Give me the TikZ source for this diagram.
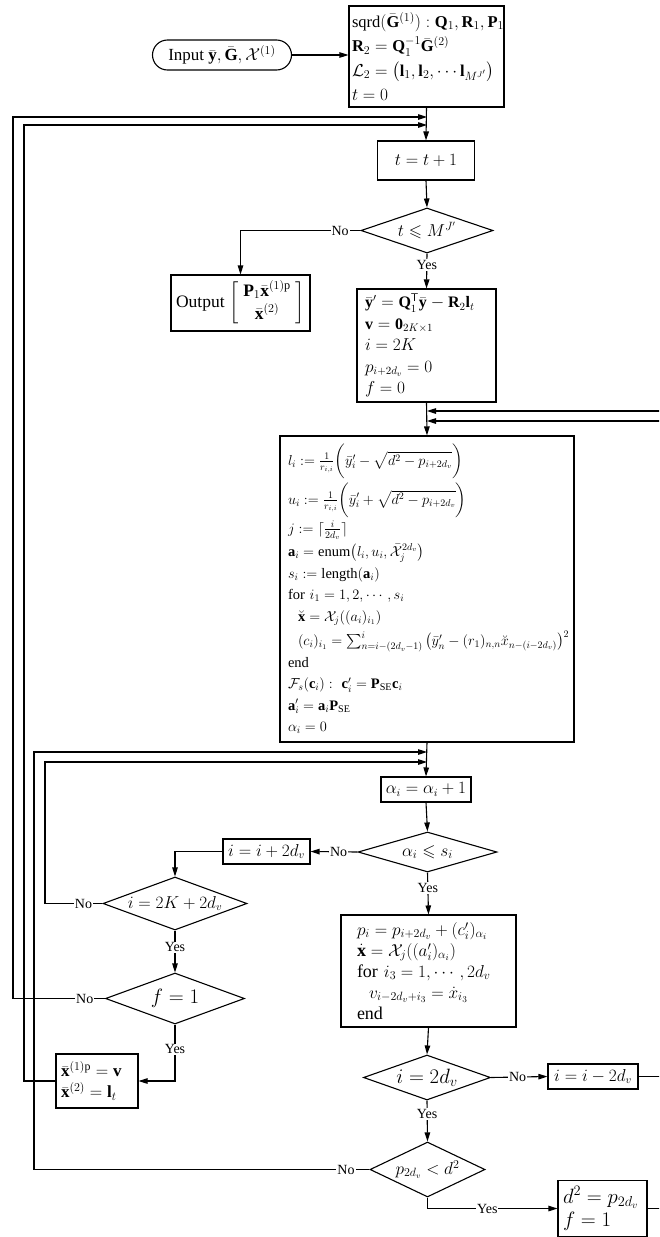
\documentclass[tikz,border=0pt]{standalone}
\usepackage{amsmath,amssymb}
\usepackage{fontspec}
\setmainfont{Liberation Serif}
\usetikzlibrary{shapes.geometric,arrows.meta}
\begin{document}
\begin{tikzpicture}[x=1pt,y=-1pt,
  every node/.style={font=\fontsize{16}{20}\selectfont},
  line width=1.1pt,
  arr/.style={-{Triangle[length=9pt,width=5.5pt]}},
  box/.style={draw,rectangle,inner sep=0pt,line width=1.1pt},
  dia/.style={draw,diamond,inner sep=0pt,line width=1.1pt},
  lbl/.style={fill=white,inner sep=1pt,font=\fontsize{14}{16}\selectfont},
]
\useasboundingbox (0,0) rectangle (659,1237);
\clip (0,0) rectangle (659,1237);

% ---------- nodes ----------
\node[draw,rectangle,rounded corners=15pt,minimum width=139pt,minimum height=30pt,inner sep=0pt,font=\fontsize{17}{20}\selectfont] (input) at (222,55)
  {Input $\bar{\mathbf{y}},\bar{\mathbf{G}},\mathcal{X}^{(1)}$};

\node[box,minimum width=155pt,minimum height=101pt,text width=149pt,inner xsep=3pt,align=left,font=\fontsize{16.5}{24.5}\selectfont] (init) at (426.5,56.5)
  {\mbox{$\text{sqrd}(\bar{\mathbf{G}}^{(1)}):\mathbf{Q}_1,\mathbf{R}_1,\mathbf{P}_1$}\\
   \mbox{$\mathbf{R}_2=\mathbf{Q}_1^{-1}\bar{\mathbf{G}}^{(2)}$}\\
   \mbox{$\mathcal{L}_2=\big(\mathbf{l}_1,\mathbf{l}_2,\cdots\mathbf{l}_{M^{J'}}\big)$}\\
   \mbox{$t=0$}};

\node[box,minimum width=97pt,minimum height=39pt,font=\fontsize{19}{22}\selectfont] (tbox) at (426,160.5) {$t=t+1$};

\node[dia,aspect=2.9,minimum width=132pt,minimum height=45pt,font=\fontsize{17}{20}\selectfont] (dia1) at (427,230.5) {$t\leqslant M^{J'}$};

\node[box,minimum width=139pt,minimum height=56pt,font=\fontsize{17.5}{20}\selectfont] (out) at (240.5,303)
  {Output\ {\renewcommand{\arraystretch}{1.15}$\left[\begin{array}{c}\mathbf{P}_1\bar{\mathbf{x}}^{(1)\mathrm{p}}\\ \bar{\mathbf{x}}^{(2)}\end{array}\right]$}};

\node[box,minimum width=139pt,minimum height=113pt,text width=123pt,inner xsep=8pt,align=left,font=\fontsize{16}{21.5}\selectfont] (box2) at (426.5,345.5)
  {\mbox{$\bar{\mathbf{y}}'=\mathbf{Q}_1^{\mathsf{T}}\bar{\mathbf{y}}-\mathbf{R}_2\mathbf{l}_t$}\\
   $\mathbf{v}=\mathbf{0}_{2K\times1}$\\
   $i=2K$\\
   $p_{i+2d_v}=0$\\
   $f=0$};

\node[box,minimum width=294pt,minimum height=306pt,text width=278pt,inner xsep=8pt,align=left,font=\fontsize{14.5}{21.5}\selectfont] (mainbox) at (427,589)
  {\mbox{$l_i:=\frac{1}{r_{i,i}}\bigg(\bar{y}'_i-\sqrt{d^2-p_{i+2d_v}}\bigg)$}\\[3pt]
   \mbox{$u_i:=\frac{1}{r_{i,i}}\bigg(\bar{y}'_i+\sqrt{d^2-p_{i+2d_v}}\bigg)$}\\[2pt]
   \mbox{$j:=\lceil\frac{i}{2d_v}\rceil$}\\[2pt]
   \mbox{$\mathbf{a}_i=\text{enum}\big(l_i,u_i,\bar{\mathcal{X}}_j^{2d_v}\big)$}\\
   \mbox{$s_i:=\text{length}(\mathbf{a}_i)$}\\
   \mbox{for $i_1=1,2,\cdots,s_i$}\\
   \mbox{\hspace*{10pt}$\breve{\mathbf{x}}=\mathcal{X}_j((a_i)_{i_1})$}\\[3pt]
   \mbox{\hspace*{10pt}$(c_i)_{i_1}=\sum_{n=i-(2d_v-1)}^{i}\big(\bar{y}'_n-(r_1)_{n,n}\breve{x}_{n-(i-2d_v)}\big)^2$}\\
   end\\
   \mbox{$\mathcal{F}_s(\mathbf{c}_i):\ \mathbf{c}'_i=\mathbf{P}_{\text{SE}}\mathbf{c}_i$}\\
   \mbox{$\mathbf{a}'_i=\mathbf{a}_i\mathbf{P}_{\text{SE}}$}\\
   \mbox{$\alpha_i=0$}};

\node[box,minimum width=90pt,minimum height=25pt] (abox) at (426,789.5) {$\alpha_i=\alpha_i+1$};

\node[dia,aspect=3.4,minimum width=139pt,minimum height=40pt,font=\fontsize{17}{20}\selectfont] (dia2) at (427.5,852) {$\alpha_i\leqslant s_i$};

\node[box,minimum width=87pt,minimum height=25pt] (incbox) at (266.5,851.5) {$i=i+2d_v$};

\node[dia,aspect=2.7,minimum width=144pt,minimum height=53pt] (dia3) at (175,903.5) {$i=2K+2d_v$};

\node[dia,aspect=2.7,minimum width=139pt,minimum height=51pt,font=\fontsize{21}{24}\selectfont] (dia4) at (175,998.5) {$f=1$};

\node[box,minimum width=82pt,minimum height=54pt,text width=72pt,inner xsep=5pt,align=left,font=\fontsize{17}{21}\selectfont] (xbox) at (97,1081)
  {\mbox{$\bar{\mathbf{x}}^{(1)\mathrm{p}}=\mathbf{v}$}\\
   \mbox{$\bar{\mathbf{x}}^{(2)}=\mathbf{l}_t$}};

\node[box,minimum width=175pt,minimum height=112pt,text width=143pt,inner xsep=16pt,align=left,font=\fontsize{18}{21}\selectfont] (pbox) at (428.5,971)
  {\mbox{$p_i=p_{i+2d_v}+(c'_i)_{\alpha_i}$}\\
   \mbox{$\dot{\mathbf{x}}=\mathcal{X}_j((a'_i)_{\alpha_i})$}\\
   \mbox{for $i_3=1,\cdots,2d_v$}\\
   \mbox{\hspace*{12pt}$v_{i-2d_v+i_3}=\dot{x}_{i_3}$}\\
   end};

\node[dia,aspect=2.8,minimum width=127pt,minimum height=45pt,font=\fontsize{21}{24}\selectfont] (dia5) at (427,1077.5) {$i=2d_v$};

\node[box,minimum width=90pt,minimum height=25pt] (decbox) at (593,1076.5) {$i=i-2d_v$};

\node[dia,aspect=2.1,minimum width=115pt,minimum height=55pt,font=\fontsize{17}{20}\selectfont] (dia6) at (427.5,1169.5) {$p_{2d_v}<d^2$};

\node[box,minimum width=89pt,minimum height=56pt,text width=79pt,inner xsep=5pt,align=left,font=\fontsize{19.5}{23}\selectfont] (dbox) at (602.5,1208.5)
  {\mbox{$d^2=p_{2d_v}$}\\
   $f=1$};

% ---------- junction coordinates ----------
\coordinate (j1) at (427,117);
\coordinate (j2) at (427,125);
\coordinate (j3) at (427,411);
\coordinate (j4) at (427,421);
\coordinate (j5) at (427,752);
\coordinate (j6) at (427,762);
\coordinate (L1) at (13,0);
\coordinate (L2) at (24,0);
\coordinate (L3) at (34,0);
\coordinate (L4) at (45,0);
\coordinate (R1) at (665,0);
\coordinate (R2) at (672,0);

% ---------- connectors ----------
\draw[arr] (input.east) -- (input.east -| init.west);
\draw[arr] (init.south) -- (tbox.north);
\draw[arr] (tbox.south) -- (dia1.north);
\draw[arr] (dia1.west) -- node[lbl,pos=0.17]{No} (dia1.west -| out.north) -- (out.north);
\draw[arr] (dia1.south) -- node[lbl,pos=0.33]{Yes} (box2.north);
\draw[arr] (box2.south) -- (mainbox.north);
\draw[arr] (mainbox.south) -- (abox.north);
\draw[arr] (abox.south) -- (dia2.north);
\draw[arr] (dia2.west) -- node[lbl,pos=0.4]{No} (incbox.east);
\draw[arr] (incbox.west) -| (dia3.north);
\draw[arr] (dia3.west) -- node[lbl,pos=0.33]{No} (dia3.west -| L4) |- (j6);
\draw[arr] (dia3.south) -- node[lbl,pos=0.4]{Yes} (dia4.north);
\draw[arr] (dia4.west) -- node[lbl,pos=0.22]{No} (dia4.west -| L1) |- (j1);
\draw[arr] (dia4.south) -- node[lbl,pos=0.44]{Yes} (dia4.south |- xbox.east) -- (xbox.east);
\draw[arr] (xbox.west) -- (xbox.west -| L2) |- (j2);
\draw[arr] (dia2.south) -- node[lbl,pos=0.37]{Yes} (pbox.north);
\draw[arr] (pbox.south) -- (dia5.north);
\draw[arr] (dia5.east) -- node[lbl,pos=0.47]{No} (decbox.west);
\draw[arr] (decbox.east) -- (decbox.east -| R1) |- (j4);
\draw[arr] (dia5.south) -- node[lbl,pos=0.33]{Yes} (dia6.north);
\draw[arr] (dia6.west) -- node[lbl,pos=0.07]{No} (dia6.west -| L3) |- (j5);
\draw[arr] (dia6.south) -- (dia6.south |- dbox.west) -- node[lbl,pos=0.46]{Yes} (dbox.west);
\draw[arr] (dbox.east) -- (dbox.east -| R2) |- (j3);
\end{tikzpicture}
\end{document}
